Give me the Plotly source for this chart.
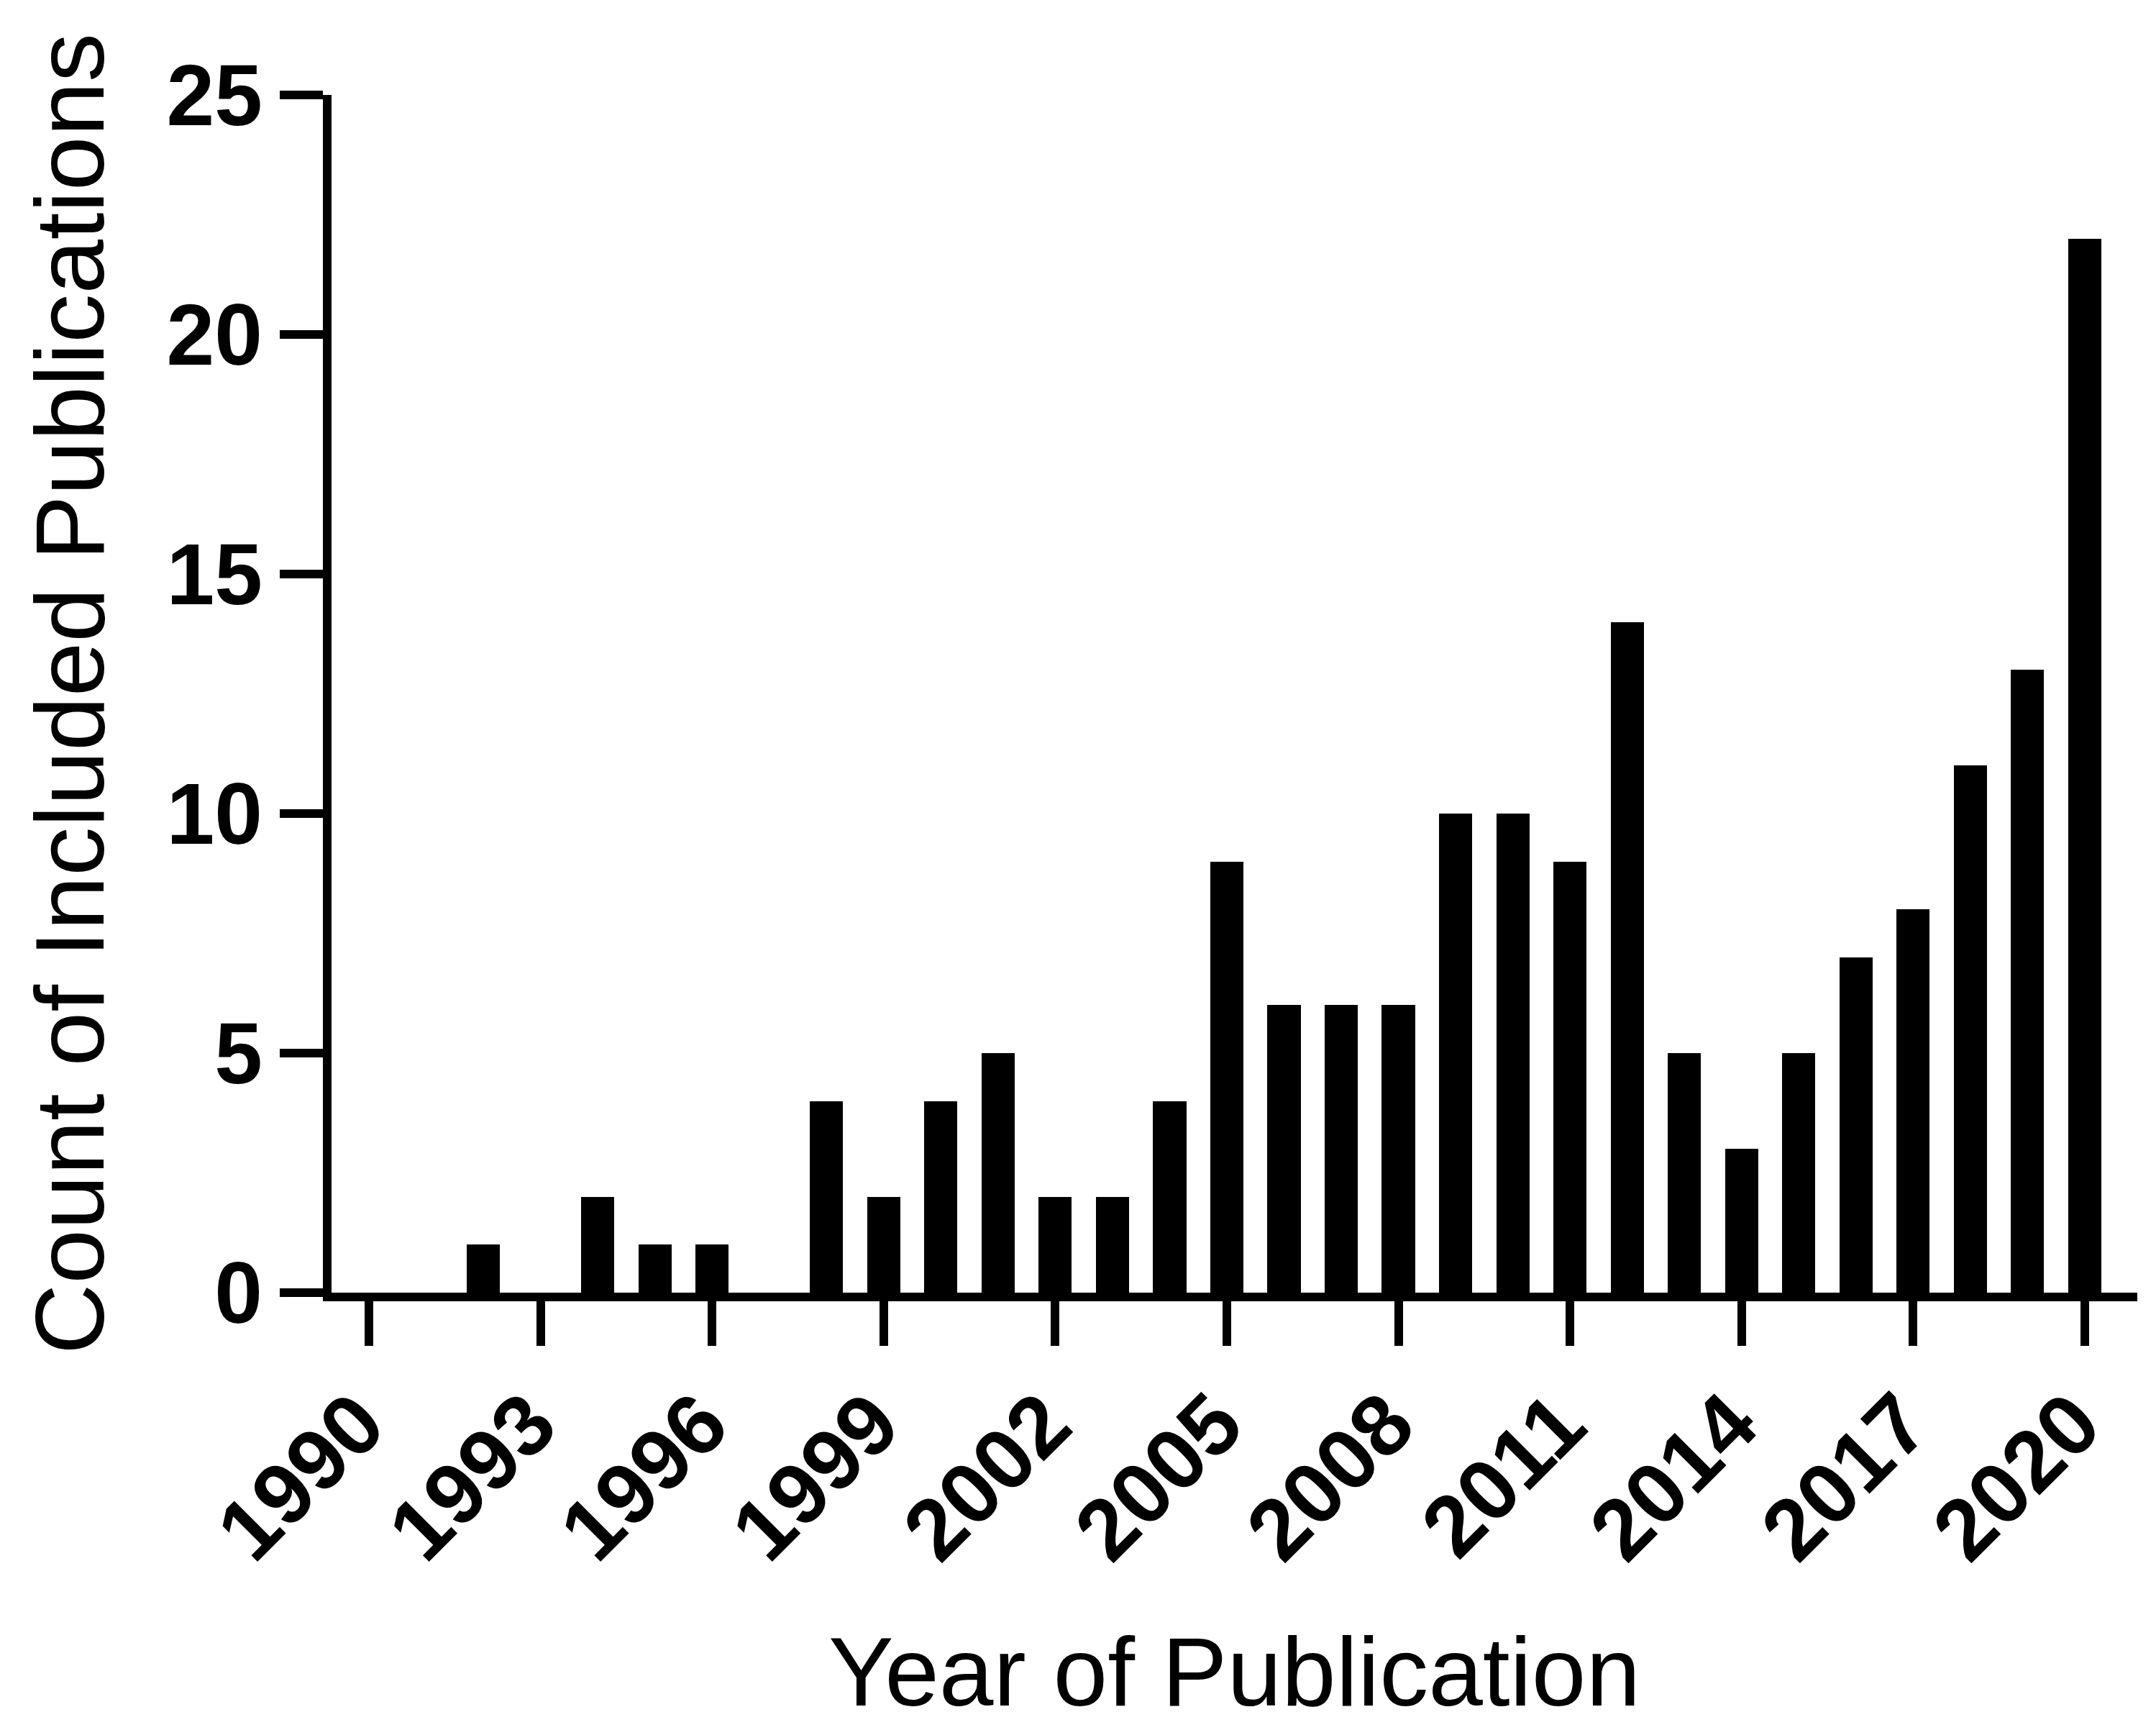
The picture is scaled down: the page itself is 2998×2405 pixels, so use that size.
import plotly.graph_objects as go

years = list(range(1990, 2021))
counts = [0, 0, 1, 0, 2, 1, 1, 0, 4, 2, 4, 5, 2, 2, 4, 9, 6, 6, 6, 10, 10, 9, 14, 5, 3, 5, 7, 8, 11, 13, 22]
x_tick_vals = list(range(1990, 2021, 3))
x_tick_text = [str(v) for v in x_tick_vals]
y_tick_vals = [0, 5, 10, 15, 20, 25]

# page body has an 8px default margin, so the figure is made 8px smaller
W, H = 2990, 2397
L, R, T, B = 453, 26, 124, 608

fig = go.Figure()
fig.add_trace(go.Bar(x=years, y=counts, width=0.58,
                     marker=dict(color="black", line=dict(width=0))))

tick_font = dict(family="Arial, Liberation Sans, sans-serif", size=120, color="black", weight="bold")
title_font = dict(family="Arial, Liberation Sans, sans-serif", size=136, color="black")

fig.update_layout(
    width=W, height=H,
    margin=dict(l=L, r=R, t=T, b=B, autoexpand=False),
    paper_bgcolor="white", plot_bgcolor="white",
    showlegend=False, bargap=0,
    xaxis=dict(range=[1989.346, 2020.919], tickmode="array", tickvals=x_tick_vals, ticktext=x_tick_text,
               tickangle=-45, ticks="outside", ticklen=62, tickwidth=12, tickcolor="black",
               ticklabelstandoff=-10, ticklabelshift=-14,
               showline=True, linewidth=12, linecolor="black", showgrid=False, zeroline=False,
               tickfont=tick_font,
               title=dict(text="Year of Publication", font=title_font, standoff=88)),
    yaxis=dict(range=[0, 25], tickmode="array", tickvals=y_tick_vals,
               ticks="outside", ticklen=60, tickwidth=12, tickcolor="black",
               showline=True, linewidth=12, linecolor="black", showgrid=False, zeroline=False,
               tickfont=tick_font,
               title=dict(text="Count of Included Publications", font=title_font, standoff=46)),
)

fig.write_html("out.html")
